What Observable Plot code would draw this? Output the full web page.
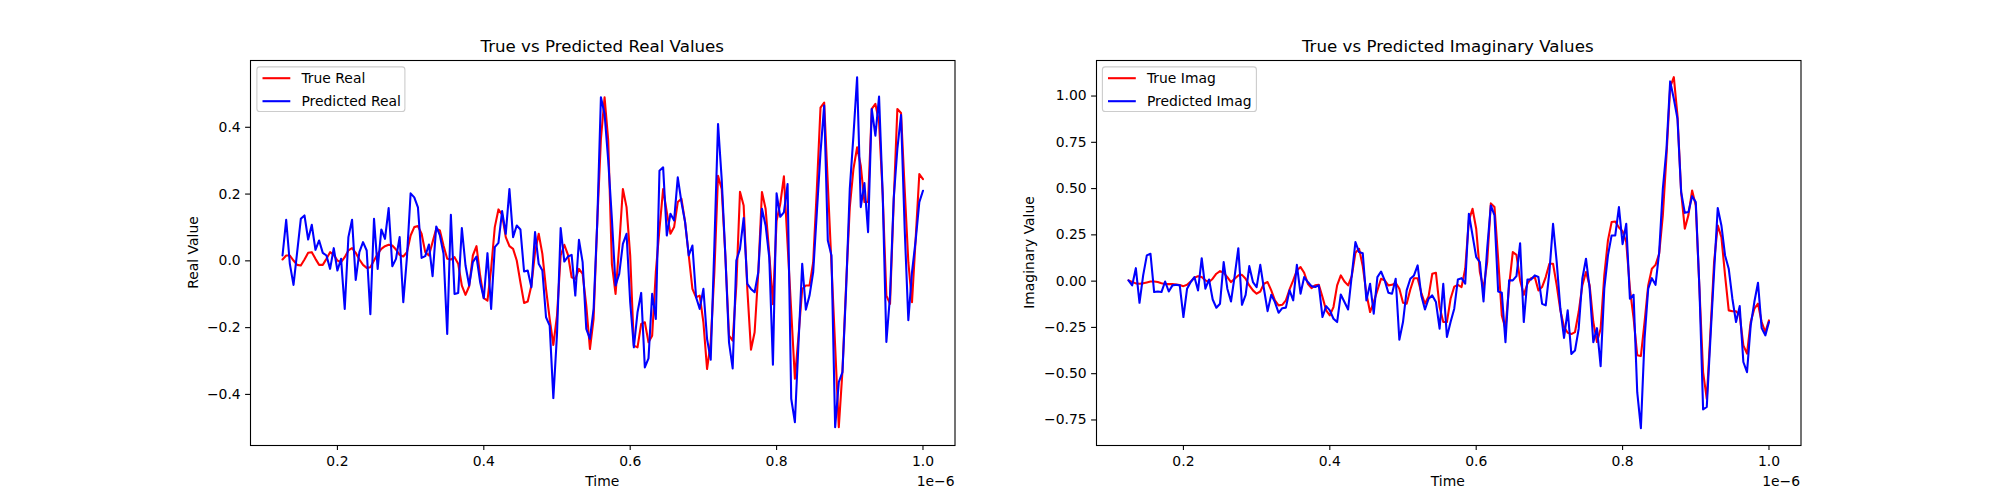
<!DOCTYPE html>
<html>
<head>
<meta charset="utf-8">
<script src="https://cdn.jsdelivr.net/npm/d3@7"></script>
<script src="https://cdn.jsdelivr.net/npm/@observablehq/plot@0.6"></script>
<style>
  html, body { margin: 0; padding: 0; background: #ffffff; }
  #fig { position: relative; width: 2000px; height: 500px; background: #ffffff; overflow: hidden; font-family: "DejaVu Sans", sans-serif; }
  #fig > svg { position: absolute; top: 0; }
</style>
</head>
<body>
<div id="fig"></div>
<script>
// Time axis, in units of 1e-6 s
const time = [
  0.125,0.13,0.135,0.14,0.145,0.15,0.155,0.16,0.165,0.17,
  0.175,0.18,0.185,0.19,0.195,0.2,0.205,0.21,0.215,0.22,
  0.225,0.23,0.235,0.24,0.245,0.25,0.255,0.26,0.265,0.27,
  0.275,0.28,0.285,0.29,0.295,0.3,0.305,0.31,0.315,0.32,
  0.325,0.33,0.335,0.34,0.345,0.35,0.355,0.36,0.365,0.37,
  0.375,0.38,0.385,0.39,0.395,0.4,0.405,0.41,0.415,0.42,
  0.425,0.43,0.435,0.44,0.445,0.45,0.455,0.46,0.465,0.47,
  0.475,0.48,0.485,0.49,0.495,0.5,0.505,0.51,0.515,0.52,
  0.525,0.53,0.535,0.54,0.545,0.55,0.555,0.56,0.565,0.57,
  0.575,0.58,0.585,0.59,0.595,0.6,0.605,0.61,0.615,0.62,
  0.625,0.63,0.635,0.64,0.645,0.65,0.655,0.66,0.665,0.67,
  0.675,0.68,0.685,0.69,0.695,0.7,0.705,0.71,0.715,0.72,
  0.725,0.73,0.735,0.74,0.745,0.75,0.755,0.76,0.765,0.77,
  0.775,0.78,0.785,0.79,0.795,0.8,0.805,0.81,0.815,0.82,
  0.825,0.83,0.835,0.84,0.845,0.85,0.855,0.86,0.865,0.87,
  0.875,0.88,0.885,0.89,0.895,0.9,0.905,0.91,0.915,0.92,
  0.925,0.93,0.935,0.94,0.945,0.95,0.955,0.96,0.965,0.97,
  0.975,0.98,0.985,0.99,0.995,1.0
];

const trueReal = [
  0.004,0.016,0.016,0.001,-0.012,-0.014,0.004,0.024,0.026,0.006,
  -0.012,-0.012,0.006,0.026,0.018,0.001,-0.004,0.011,0.031,0.038,
  0.024,0.004,-0.012,-0.021,-0.019,0.001,0.021,0.036,0.044,0.048,
  0.046,0.034,0.018,0.013,0.026,0.076,0.101,0.104,0.081,0.026,
  0.016,0.056,0.096,0.091,0.045,0.006,0.004,0.011,-0.009,-0.074,
  -0.102,-0.076,0.016,0.044,-0.044,-0.112,-0.119,-0.024,0.101,0.154,
  0.138,0.071,0.044,0.036,0.001,-0.064,-0.126,-0.122,-0.074,0.026,
  0.081,0.021,-0.084,-0.174,-0.252,-0.164,0.016,0.048,0.018,-0.049,
  -0.054,-0.024,-0.039,-0.134,-0.264,-0.174,0.116,0.365,0.490,0.36,
  -0.01,-0.099,0.046,0.215,0.161,0.016,-0.254,-0.259,-0.189,-0.184,
  -0.244,-0.224,-0.034,0.096,0.215,0.146,0.081,0.101,0.176,0.186,
  0.116,0.016,-0.084,-0.109,-0.104,-0.184,-0.324,-0.244,-0.034,0.255,
  0.215,0.016,-0.224,-0.239,-0.074,0.207,0.166,-0.084,-0.266,-0.214,
  -0.034,0.206,0.156,0.02,-0.13,0.12,0.17,0.253,0.05,-0.15,
  -0.353,-0.224,-0.084,-0.074,-0.074,-0.004,0.215,0.459,0.474,0.23,
  -0.012,-0.255,-0.498,-0.33,-0.07,0.16,0.275,0.34,0.285,0.176,
  0.176,0.455,0.47,0.415,0.196,-0.104,-0.129,0.176,0.455,0.443,
  0.215,-0.004,-0.124,0.066,0.260,0.245
];

const predReal = [
  0.016,0.123,-0.009,-0.072,0.026,0.126,0.136,0.064,0.108,0.033,
  0.061,0.024,0.016,-0.024,0.038,-0.029,0.006,-0.144,0.071,0.123,
  -0.057,0.026,0.056,0.031,-0.160,0.126,-0.024,0.094,0.066,0.158,
  -0.016,0.006,0.071,-0.124,0.011,0.202,0.190,0.160,0.009,0.014,
  0.049,-0.046,0.103,0.076,0.021,-0.219,0.138,-0.099,-0.096,0.098,
  -0.014,-0.074,-0.004,0.013,-0.064,-0.112,0.023,-0.144,0.041,0.054,
  0.149,0.081,0.215,0.071,0.106,0.094,-0.032,-0.029,-0.079,0.086,
  -0.009,-0.029,-0.169,-0.194,-0.411,-0.22,0.098,-0.002,0.013,0.018,
  -0.104,0.063,-0.004,-0.204,-0.234,-0.144,0.116,0.490,0.44,0.30,
  0.125,-0.074,-0.039,0.051,0.081,-0.124,-0.259,-0.154,-0.096,-0.319,
  -0.292,-0.099,-0.174,0.270,0.280,0.076,0.141,0.121,0.250,0.176,
  0.116,0.016,0.046,-0.109,-0.144,-0.084,-0.234,-0.296,0.046,0.41,
  0.245,0.016,-0.244,-0.322,0.001,0.036,0.128,-0.069,-0.084,-0.094,
  -0.034,0.156,0.106,0.01,-0.311,0.202,0.132,0.145,0.230,-0.413,
  -0.483,-0.244,-0.009,-0.146,-0.104,-0.034,0.145,0.325,0.465,0.061,
  0.016,-0.498,-0.363,-0.333,-0.084,0.215,0.375,0.550,0.161,0.233,
  0.086,0.455,0.375,0.492,0.196,-0.243,-0.104,0.186,0.335,0.437,
  0.096,-0.178,-0.034,0.061,0.176,0.210
];

const trueImag = [
  0.004,-0.005,-0.012,-0.014,-0.012,-0.007,-0.002,-0.002,-0.005,-0.011,
  -0.016,-0.016,-0.016,-0.018,-0.021,-0.027,-0.020,-0.002,0.018,0.027,
  0.022,0.004,-0.005,0.013,0.040,0.054,0.045,0.022,-0.005,0.013,
  0.031,0.034,0.013,-0.023,-0.05,-0.068,-0.056,-0.014,-0.005,-0.05,
  -0.104,-0.131,-0.128,-0.104,-0.045,0.004,0.058,0.076,0.045,-0.014,
  -0.038,-0.023,-0.02,-0.086,-0.158,-0.185,-0.14,-0.023,0.031,-0.002,
  -0.023,0.027,0.153,0.175,0.081,-0.068,-0.167,-0.113,-0.05,0.013,
  0.004,-0.023,-0.02,-0.009,-0.041,-0.117,-0.122,-0.045,0.016,0.016,
  -0.063,-0.122,-0.081,0.04,0.045,-0.14,-0.221,-0.221,-0.095,-0.03,
  -0.02,-0.032,0.067,0.328,0.391,0.283,0.049,-0.041,0.103,0.42,
  0.40,0.121,-0.185,-0.258,-0.023,0.157,0.142,0.004,-0.074,-0.014,
  0.016,0.022,-0.05,-0.032,0.022,0.094,0.094,-0.023,-0.158,-0.248,
  -0.279,-0.286,-0.275,-0.167,-0.023,0.049,-0.023,-0.221,-0.329,-0.258,
  0.031,0.22,0.319,0.322,0.29,0.27,0.21,-0.04,-0.2,-0.4,
  -0.405,-0.221,-0.023,0.067,0.088,0.148,0.355,0.679,1.048,1.102,
  0.895,0.481,0.283,0.358,0.49,0.409,-0.041,-0.491,-0.636,-0.276,
  0.103,0.301,0.238,0.031,-0.158,-0.163,-0.163,-0.185,-0.347,-0.392,
  -0.221,-0.149,-0.122,-0.221,-0.275,-0.212
];

const predImag = [
  0.004,-0.023,0.07,-0.117,0.031,0.139,0.148,-0.059,-0.056,-0.059,
  -0.002,-0.056,-0.023,-0.02,-0.023,-0.194,-0.041,-0.005,0.022,-0.05,
  0.124,-0.041,0.009,-0.099,-0.144,-0.122,0.103,-0.041,-0.11,0.027,
  0.178,-0.128,-0.074,0.081,-0.005,-0.032,0.088,-0.041,-0.162,-0.074,
  -0.113,-0.171,-0.146,-0.143,-0.05,-0.104,0.088,-0.068,0.022,-0.005,
  -0.027,-0.032,-0.023,-0.194,-0.135,-0.158,-0.203,-0.221,-0.072,-0.113,
  -0.153,0.031,0.211,0.157,0.151,-0.104,-0.014,-0.176,0.022,0.052,
  0.004,-0.063,-0.068,0.013,-0.317,-0.221,-0.05,0.013,0.031,0.085,
  -0.077,-0.153,-0.095,-0.077,-0.113,-0.257,-0.014,-0.302,-0.221,-0.149,
  0.009,0.016,-0.014,0.364,0.247,0.13,0.103,-0.11,0.175,0.409,
  0.355,-0.056,-0.063,-0.33,0.004,0.004,0.027,0.205,-0.221,0.009,
  0.009,0.031,0.022,-0.122,-0.131,0.049,0.31,0.103,-0.149,-0.307,
  -0.158,-0.393,-0.375,-0.258,0.013,0.121,-0.041,-0.33,-0.254,-0.459,
  -0.041,0.139,0.247,0.247,0.4,0.2,0.31,-0.095,-0.074,-0.6,
  -0.794,-0.311,-0.041,0.016,-0.02,0.157,0.499,0.715,1.079,0.985,
  0.877,0.481,0.369,0.373,0.459,0.427,-0.041,-0.693,-0.68,-0.311,
  0.049,0.395,0.301,0.139,0.067,-0.095,-0.221,-0.135,-0.437,-0.492,
  -0.24,-0.113,-0.009,-0.254,-0.293,-0.221
];

const xTicks = [0.2, 0.4, 0.6, 0.8, 1.0];
const realTicks = [-0.4, -0.2, 0.0, 0.2, 0.4];
const imagTicks = [-0.75, -0.5, -0.25, 0.0, 0.25, 0.5, 0.75, 1.0];

const panels = [
  { title: "True vs Predicted Real Values", ylabel: "Real Value",
    trueVals: trueReal, predVals: predReal, trueName: "True Real", predName: "Predicted Real",
    yDomain: [-0.553, 0.600], yTicks: realTicks, yFmt: ".1f",
    axLeft: 250, ylabelX: 198, legendW: 148 },
  { title: "True vs Predicted Imaginary Values", ylabel: "Imaginary Value",
    trueVals: trueImag, predVals: predImag, trueName: "True Imag", predName: "Predicted Imag",
    yDomain: [-0.888, 1.192], yTicks: imagTicks, yFmt: ".2f",
    axLeft: 1095.5, ylabelX: 1033.5, legendW: 154 }
];

const AX_W = 704.5, AX_TOP = 60, AX_BOT = 445;
const ML = 60, MR = 20;
const FONT = "DejaVu Sans";
const fig = document.getElementById("fig");

for (const p of panels) {
  const rows = time.map((t, i) => ({ t, truth: p.trueVals[i], pred: p.predVals[i] }));
  const svg = Plot.plot({
    width: ML + AX_W + MR, height: 500,
    marginLeft: ML, marginRight: MR, marginTop: AX_TOP, marginBottom: 500 - AX_BOT,
    style: { fontFamily: FONT, fontSize: "13.9px", background: "transparent", color: "black", overflow: "visible" },
    x: { domain: [0.08125, 1.04375] },
    y: { domain: p.yDomain },
    marks: [
      Plot.line(rows, { x: "t", y: "truth", stroke: "#ff0000", strokeWidth: 2.08 }),
      Plot.line(rows, { x: "t", y: "pred", stroke: "#0000ff", strokeWidth: 2.08 }),
      Plot.frame({ stroke: "black", strokeWidth: 1.1 }),
      Plot.axisX({ ticks: xTicks, tickFormat: d3.format(".1f"), tickSize: 4.9, tickPadding: 6.2, label: null, strokeWidth: 1.1 }),
      Plot.axisY({ ticks: p.yTicks, tickFormat: d3.format(p.yFmt), tickSize: 4.9, tickPadding: 4.9, label: null, strokeWidth: 1.1 })
    ]
  });
  svg.style.left = (p.axLeft - ML) + "px";
  fig.appendChild(svg);
}

// Overlay: titles, axis labels, offset text and legends
const ov = d3.select(fig).append("svg")
  .attr("width", 2000).attr("height", 500)
  .style("left", "0px").style("pointer-events", "none")
  .attr("font-family", FONT).attr("fill", "black");

for (const p of panels) {
  const cx = p.axLeft + AX_W / 2;
  ov.append("text").attr("x", cx).attr("y", 51.7).attr("text-anchor", "middle")
    .attr("font-size", 16.67).text(p.title);
  ov.append("text").attr("x", cx).attr("y", 485.7).attr("text-anchor", "middle")
    .attr("font-size", 13.9).text("Time");
  ov.append("text").attr("x", p.axLeft + AX_W).attr("y", 485.7).attr("text-anchor", "end")
    .attr("font-size", 13.9).text("1e\u22126");
  ov.append("text")
    .attr("transform", `translate(${p.ylabelX},${(AX_TOP + AX_BOT) / 2}) rotate(-90)`)
    .attr("text-anchor", "middle").attr("font-size", 13.9).text(p.ylabel);

  // legend
  const lx = p.axLeft + 6.9, ly = AX_TOP + 6.9;
  ov.append("rect").attr("x", lx).attr("y", ly).attr("width", p.legendW).attr("height", 44.6)
    .attr("rx", 2.8).attr("fill", "white").attr("fill-opacity", 0.8)
    .attr("stroke", "#cccccc").attr("stroke-width", 1.1);
  const entries = [[p.trueName, "#ff0000"], [p.predName, "#0000ff"]];
  entries.forEach(([name, color], k) => {
    const cy = 78.2 + k * 23;
    ov.append("line").attr("x1", lx + 5.6).attr("x2", lx + 33.4).attr("y1", cy).attr("y2", cy)
      .attr("stroke", color).attr("stroke-width", 2.08);
    ov.append("text").attr("x", lx + 44.5).attr("y", cy + 4.8).attr("font-size", 13.9).text(name);
  });
}
</script>
</body>
</html>
